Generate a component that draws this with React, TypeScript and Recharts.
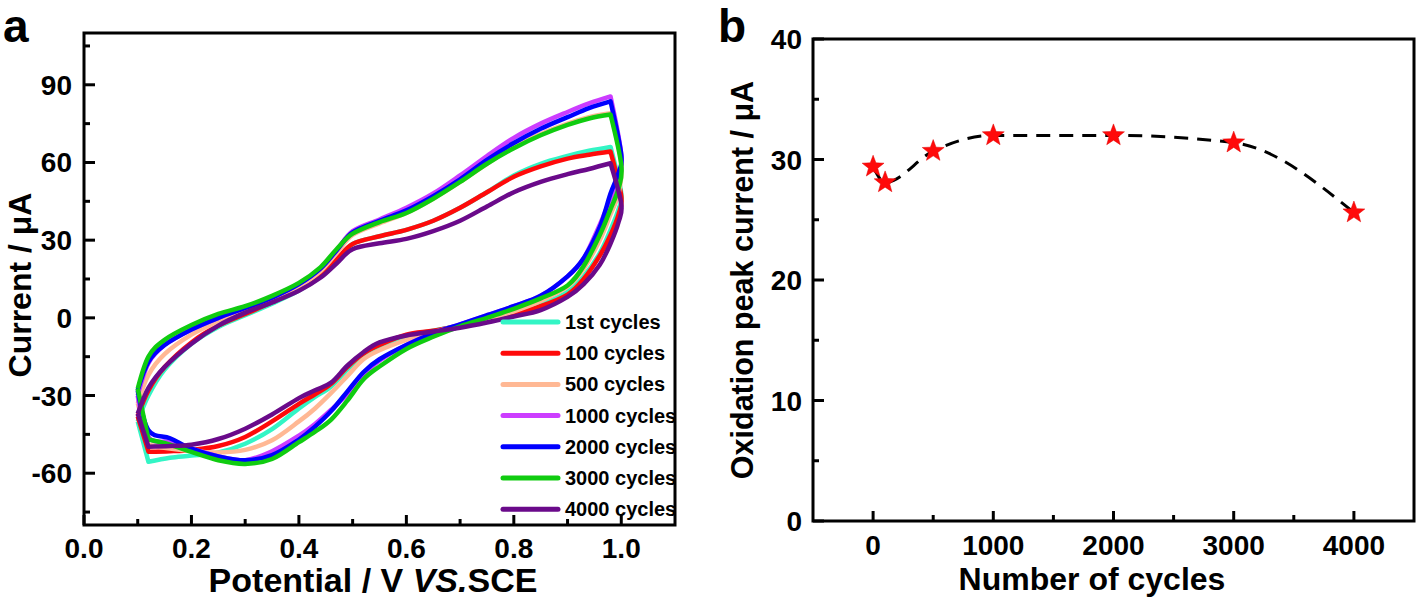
import { LineChart, Line, XAxis, YAxis, ReferenceArea } from 'recharts';

const FONT = "'Liberation Sans', Arial, sans-serif";

// panel a: potentials for the anodic (upper) and cathodic (lower) branch
const upperPotential = [0.1, 0.12, 0.15, 0.2, 0.25, 0.3, 0.35, 0.4, 0.44, 0.47, 0.5, 0.55, 0.6, 0.65, 0.7, 0.75, 0.8, 0.85, 0.9, 0.94, 0.98, 1.0];
const lowerPotential = [0.995, 0.98, 0.96, 0.93, 0.9, 0.85, 0.8, 0.75, 0.7, 0.65, 0.6, 0.55, 0.52, 0.49, 0.46, 0.43, 0.4, 0.35, 0.3, 0.25, 0.2, 0.16, 0.12, 0.1];

const cycleLabels = ['1st cycles', '100 cycles', '500 cycles', '1000 cycles', '2000 cycles', '3000 cycles', '4000 cycles'];
const cycleColors = ['#33F5C5', '#FF0A0A', '#FFB894', '#CC3DFF', '#0000FF', '#10CC10', '#6A0A8A'];

const upper1st = [-40, -30, -20, -10, -3.5, 1, 5.5, 10.5, 16, 22, 28.5, 31.5, 34, 37.5, 42.5, 48.5, 55, 59.5, 62.5, 64.5, 66, 48];
const lower1st = [42, 34, 25, 16, 10, 5, 2, -0.8, -3, -5, -7, -11, -14.5, -20, -26.5, -30.5, -35, -43, -48.6, -52, -53.2, -54, -55.6, -40];
const upper100 = [-38, -28, -19, -9.5, -3, 1.5, 6, 11, 16.5, 22.5, 28.5, 31.5, 34, 37.5, 42.5, 48.5, 54.5, 58.5, 61.5, 63, 64.2, 47];
const lower100 = [40, 32, 24, 15, 9, 4.5, 1.5, -1, -3, -5, -6.5, -10.5, -13.8, -19, -25.5, -29.5, -33.2, -40, -46, -49.5, -51, -51.5, -51.7, -38];
const upper500 = [-33, -22, -14, -6.5, -1.5, 2.5, 7, 12, 18, 25, 32, 36.5, 40.5, 46, 52.5, 59.5, 66, 71, 75, 77.5, 79, 60];
const lower500 = [48, 40, 30, 19, 12, 6.5, 2.5, -0.5, -3, -5.5, -8.5, -12.5, -16, -22.5, -29, -35, -40, -47.3, -51, -52, -51.5, -50.5, -49, -33];
const upper1000 = [-30, -17.5, -10.5, -4.5, 0, 3.8, 7.8, 13, 19, 26, 33.5, 38, 42.5, 48, 55, 62.5, 69.5, 75, 79.5, 82.8, 85.5, 63];
const lower1000 = [52, 46, 36, 23, 16, 8.5, 4.5, 1, -2.5, -6, -10.5, -16.5, -22, -29.5, -35.5, -41, -45.5, -51.5, -55, -53.5, -50.5, -48, -46, -30];
const upper2000 = [-28, -17, -10.5, -4.5, 0, 3.8, 7.8, 13, 19, 26, 33, 37.5, 41.5, 47, 53.5, 61, 67.5, 73, 77.5, 81, 83.6, 63];
const lower2000 = [56, 48, 35, 23, 16, 8.5, 4.5, 1, -2.5, -6, -10.5, -16, -21, -28.5, -36, -42, -47, -53, -55, -53.5, -50.5, -46.5, -43.4, -28];
const upper3000 = [-27.4, -15, -8.5, -2.8, 1.5, 4.5, 8.5, 13.5, 19.5, 26.5, 32.5, 37, 40.5, 46, 52.5, 59.5, 65.5, 70.5, 74.5, 77, 78.5, 59];
const lower3000 = [50, 42, 32, 20, 12.5, 7.5, 3.5, 0, -3.3, -7.3, -12, -18.8, -23.8, -32, -39.3, -44, -48, -54.5, -56.4, -55, -51.8, -49, -47, -27.4];
const upper4000 = [-37, -27, -19, -10, -3, 2, 6, 10.5, 15.5, 21, 26.5, 28.8, 30.5, 33.5, 37.5, 43, 48.5, 52.5, 55.5, 57.5, 59.7, 44];
const lower4000 = [37, 28.7, 20.5, 13, 8.1, 3, 0.5, -1.8, -3.8, -5.3, -6.8, -9.5, -13.3, -18.5, -25, -28, -31, -37.3, -42.8, -46.8, -49, -49.5, -49.8, -37];

const upperCurrents = [upper1st, upper100, upper500, upper1000, upper2000, upper3000, upper4000];
const lowerCurrents = [lower1st, lower100, lower500, lower1000, lower2000, lower3000, lower4000];

const potentialTicks = [0, 0.1, 0.2, 0.3, 0.4, 0.5, 0.6, 0.7, 0.8, 0.9, 1.0];
const currentTicks = [-75, -60, -45, -30, -15, 0, 15, 30, 45, 60, 75, 90, 105];

// panel b
const cycleNumbers = [0, 100, 500, 1000, 2000, 3000, 4000];
const peakCurrents = [29.4, 28.1, 30.7, 32.0, 32.0, 31.4, 25.6];
const cycleTicks = [0, 500, 1000, 1500, 2000, 2500, 3000, 3500, 4000];
const peakTicks = [0, 5, 10, 15, 20, 25, 30, 35, 40];

const cvSeries = cycleLabels.map((name, s) =>
  upperPotential
    .map((x, i) => ({ x, y: upperCurrents[s][i] }))
    .concat(lowerPotential.map((x, i) => ({ x, y: lowerCurrents[s][i] })))
);

const cycleData = cycleNumbers.map((c, i) => ({ cycles: c, current: peakCurrents[i] }));

// catmull-rom through the points (works for loops), keeps sharp turns as corners
const catmullRom = (context: any) => {
  let pts: number[][] = [];
  return {
    areaStart() {},
    areaEnd() {},
    lineStart() {
      pts = [];
    },
    point(x: number, y: number) {
      pts.push([+x, +y]);
    },
    lineEnd() {
      const n = pts.length;
      if (!n) return;
      const tan = pts.map((p, i) => {
        const a = pts[i - 1];
        const b = pts[i + 1];
        if (!a || !b) return [0, 0];
        const ux = p[0] - a[0], uy = p[1] - a[1];
        const vx = b[0] - p[0], vy = b[1] - p[1];
        const cos = (ux * vx + uy * vy) / (Math.hypot(ux, uy) * Math.hypot(vx, vy) || 1);
        if (cos < 0.45) return [0, 0];
        return [(b[0] - a[0]) / 6, (b[1] - a[1]) / 6];
      });
      context.moveTo(pts[0][0], pts[0][1]);
      for (let i = 0; i < n - 1; i++) {
        const p1 = pts[i];
        const p2 = pts[i + 1];
        context.bezierCurveTo(
          p1[0] + tan[i][0],
          p1[1] + tan[i][1],
          p2[0] - tan[i + 1][0],
          p2[1] - tan[i + 1][1],
          p2[0],
          p2[1]
        );
      }
    },
  };
};

const labelStyle = { fontFamily: FONT, fontWeight: 700, fontSize: 28, fill: '#000' };

const bottomTick = (isMajor: (v: number) => boolean, fmt: (v: number) => string, dy: number) => (props: any) => {
  const { x, y, payload } = props;
  const major = isMajor(payload.value);
  return (
    <g>
      <line x1={x} y1={y} x2={x} y2={y - (major ? 10 : 6)} stroke="#000" strokeWidth={3} />
      {major && (
        <text x={x} y={y + dy} textAnchor="middle" style={labelStyle}>
          {fmt(payload.value)}
        </text>
      )}
    </g>
  );
};

const leftTick = (isMajor: (v: number) => boolean, gap: number) => (props: any) => {
  const { x, y, payload } = props;
  const major = isMajor(payload.value);
  return (
    <g>
      <line x1={x} y1={y} x2={x + (major ? 11 : 6)} y2={y} stroke="#000" strokeWidth={3} />
      {major && (
        <text x={x - gap} y={y} dy={10} textAnchor="end" style={labelStyle}>
          {payload.value}
        </text>
      )}
    </g>
  );
};

const starPath = (cx: number, cy: number, R: number, r: number) => {
  let d = '';
  for (let i = 0; i < 10; i++) {
    const rad = i % 2 === 0 ? R : r;
    const a = -Math.PI / 2 + (i * Math.PI) / 5;
    d += (i === 0 ? 'M' : 'L') + (cx + rad * Math.cos(a)).toFixed(2) + ',' + (cy + rad * Math.sin(a)).toFixed(2);
  }
  return d + 'Z';
};

const StarDot = (props: any) => {
  const { cx, cy, index } = props;
  return <path key={`star-${index}`} d={starPath(cx, cy, 11.5, 4.8)} fill="#FF0A0A" stroke="#E00000" strokeWidth={0.5} />;
};

const App = () => {
  return (
    <div style={{ position: 'absolute', left: 0, top: 0, width: 1418, height: 601, background: '#fff' }}>
      <div style={{ position: 'absolute', left: 0, top: 0 }}>
        <LineChart width={700} height={601} margin={{ top: 33, right: 25, bottom: 0, left: 0 }}>
          <XAxis
            dataKey="x"
            type="number"
            domain={[0, 1.1]}
            ticks={potentialTicks}
            interval={0}
            height={76}
            tickSize={0}
            tickMargin={0}
            axisLine={false}
            tickLine={false}
            allowDataOverflow
            tick={bottomTick((v) => Math.round(v * 10) % 2 === 0, (v) => v.toFixed(1), 33)}
          />
          <YAxis
            type="number"
            domain={[-80, 110]}
            ticks={currentTicks}
            interval={0}
            width={84}
            tickSize={0}
            tickMargin={0}
            axisLine={false}
            tickLine={false}
            allowDataOverflow
            tick={leftTick((v) => v % 30 === 0, 12)}
          />
          <ReferenceArea x1={0} x2={1.1} y1={-80} y2={110} fill="none" stroke="#000" strokeWidth={3} />
          {cvSeries.map((data, s) => (
            <Line
              key={cycleLabels[s]}
              data={data}
              dataKey="y"
              name={cycleLabels[s]}
              type={catmullRom as any}
              stroke={cycleColors[s]}
              strokeWidth={4.5}
              strokeLinejoin="round"
              dot={false}
              activeDot={false}
              isAnimationActive={false}
            />
          ))}
        </LineChart>
      </div>

      <div style={{ position: 'absolute', left: 700, top: 0 }}>
        <LineChart width={718} height={601} data={cycleData} margin={{ top: 39, right: 4, bottom: 0, left: 0 }}>
          <XAxis
            dataKey="cycles"
            type="number"
            domain={[-500, 4500]}
            ticks={cycleTicks}
            interval={0}
            height={80}
            tickSize={0}
            tickMargin={0}
            axisLine={false}
            tickLine={false}
            allowDataOverflow
            tick={bottomTick((v) => v % 1000 === 0, (v) => String(v), 34)}
          />
          <YAxis
            type="number"
            domain={[0, 40]}
            ticks={peakTicks}
            interval={0}
            width={113}
            tickSize={0}
            tickMargin={0}
            axisLine={false}
            tickLine={false}
            allowDataOverflow
            tick={leftTick((v) => v % 10 === 0, 11)}
          />
          <ReferenceArea x1={-500} x2={4500} y1={0} y2={40} fill="none" stroke="#000" strokeWidth={3} />
          <Line
            dataKey="current"
            type="monotone"
            stroke="#000"
            strokeWidth={3}
            strokeDasharray="14 9"
            dot={StarDot}
            activeDot={false}
            isAnimationActive={false}
          />
        </LineChart>
      </div>

      <svg
        width={1418}
        height={601}
        style={{ position: 'absolute', left: 0, top: 0, pointerEvents: 'none', overflow: 'visible' }}
      >
        <g style={{ fontFamily: FONT, fontWeight: 700 }}>
          <text x={3} y={42} fontSize={46}>a</text>
          <text x={718} y={42} fontSize={46}>b</text>
          <text transform="translate(31,285) rotate(-90)" textAnchor="middle" fontSize={32}>
            Current / μA
          </text>
          <text x={373} y={592} textAnchor="middle" fontSize={34}>
            Potential / V <tspan fontStyle="italic">VS.</tspan>SCE
          </text>
          <text transform="translate(753,280) rotate(-90)" textAnchor="middle" fontSize={30.5}>
            Oxidation peak current / μA
          </text>
          <text x={1092} y={590} textAnchor="middle" fontSize={32}>
            Number of cycles
          </text>
          {cycleLabels.map((name, i) => {
            const y = 322 + i * 31.2;
            return (
              <g key={name}>
                <line x1={503} y1={y} x2={558} y2={y} stroke={cycleColors[i]} strokeWidth={5} strokeLinecap="round" />
                <text x={565} y={y + 7} fontSize={20}>{name}</text>
              </g>
            );
          })}
        </g>
      </svg>
    </div>
  );
};

export default App;
